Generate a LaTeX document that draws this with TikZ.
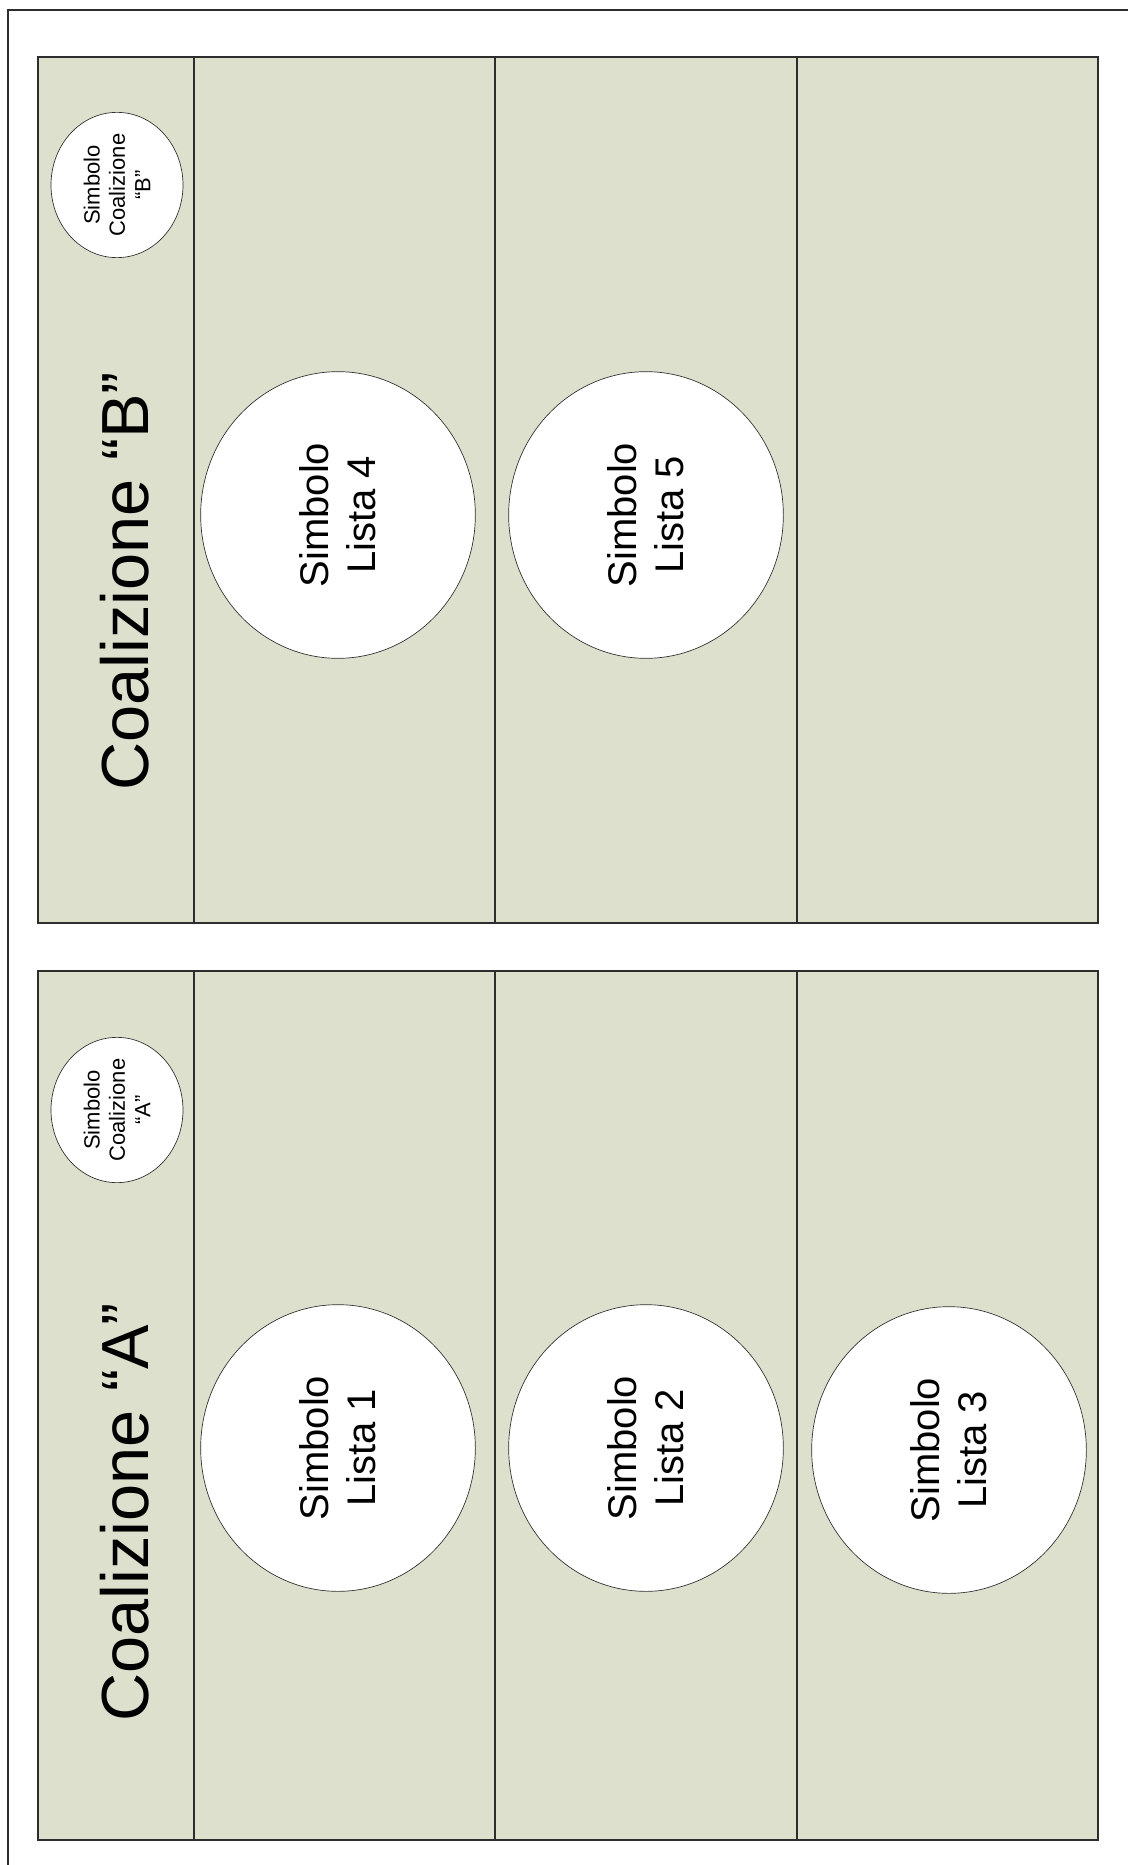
\documentclass[tikz,border=0pt]{standalone}
\usepackage{fontspec}
\setmainfont{Liberation Sans}
\usepackage{tikz}
\usetikzlibrary{shapes,positioning}
\definecolor{PanelGreen}{RGB}{221, 224, 204}
\definecolor{LineGray}{RGB}{45, 45, 45}

\begin{document}
\begin{tikzpicture}[x=0.75pt, y=-0.75pt,
    panel/.style={draw=LineGray, fill=PanelGreen, line width=0.9pt},
    divider/.style={draw=LineGray, line width=0.9pt},
    lista/.style={ellipse, draw=LineGray, fill=white, line width=0.5pt, rotate=90,
        minimum width=215pt, minimum height=206pt, inner sep=0pt, align=center,
        font=\fontsize{30}{35}\selectfont},
    simbolo/.style={ellipse, draw=LineGray, fill=white, line width=0.5pt, rotate=90,
        minimum width=102pt, minimum height=99pt, inner sep=0pt, align=center,
        font=\fontsize{16.5}{19}\selectfont},
    titolo/.style={rotate=90, anchor=base, inner sep=0pt, font=\fontsize{50}{58}\selectfont}]
    \useasboundingbox (0,0) rectangle (1128,1865);

    % Outer frame (only top and left edge show)
    \draw[LineGray, line width=0.8pt] (8,1865) -- (8,10) -- (1128,10);

    % Coalition B panel
    \draw[panel] (38,57) rectangle (1098,923);
    \draw[divider] (194,57) -- (194,923);
    \draw[divider] (495,57) -- (495,923);
    \draw[divider] (797,57) -- (797,923);

    % Coalition A panel
    \draw[panel] (38,971) rectangle (1098,1840);
    \draw[divider] (194,971) -- (194,1840);
    \draw[divider] (495,971) -- (495,1840);
    \draw[divider] (797,971) -- (797,1840);

    % Headers
    \node[titolo] (titoloB) at (148,581) {Coalizione “B”};
    \node[simbolo] (coalB) at (117,185) {Simbolo\\Coalizione\\“B”};
    \node[titolo] (titoloA) at (148,1512) {Coalizione “A”};
    \node[simbolo] (coalA) at (117,1110) {Simbolo\\Coalizione\\“A”};

    % List symbols
    \node[lista] (lista4) at (338,515) {Simbolo\\Lista 4};
    \node[lista] (lista5) at (646,515) {Simbolo\\Lista 5};
    \node[lista] (lista1) at (338,1448) {Simbolo\\Lista 1};
    \node[lista] (lista2) at (646,1448) {Simbolo\\Lista 2};
    \node[lista] (lista3) at (949,1450) {Simbolo\\Lista 3};
\end{tikzpicture}
\end{document}
